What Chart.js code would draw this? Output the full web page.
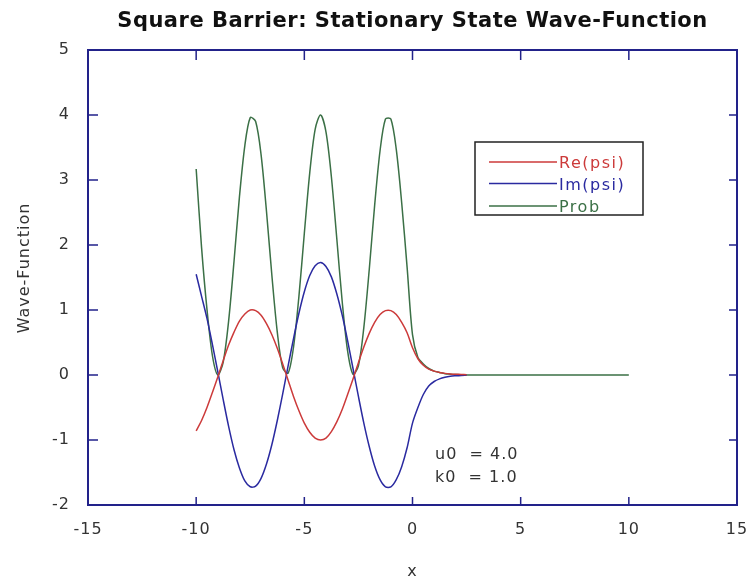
<!DOCTYPE html>
<html>
<head>
<meta charset="utf-8">
<script src="https://cdn.jsdelivr.net/npm/chart.js@4.4.1/dist/chart.umd.min.js"></script>
<style>
  html, body { margin: 0; padding: 0; background: #fff; }
  #chart { display: block; }
</style>
</head>
<body>
<canvas id="chart" width="748" height="583"></canvas>
<script>
// values, x step 0.25
const xs = [-10, -9.75, -9.5, -9.25, -9, -8.75, -8.5, -8.25, -8, -7.75,
  -7.5, -7.25, -7, -6.75, -6.5, -6.25, -6, -5.75, -5.5, -5.25,
  -5, -4.75, -4.5, -4.25, -4, -3.75, -3.5, -3.25, -3, -2.75,
  -2.5, -2.25, -2, -1.75, -1.5, -1.25, -1, -0.75, -0.5, -0.25,
  0, 0.25, 0.5, 0.75, 1, 1.25, 1.5, 1.75, 2, 2.25, 2.5];

const rePsi = [-0.86, -0.70, -0.50, -0.27, -0.03, 0.22, 0.46, 0.66, 0.83, 0.94,
  1.00, 0.99, 0.92, 0.79, 0.62, 0.41, 0.17, -0.08, -0.33, -0.55,
  -0.74, -0.88, -0.97, -1.00, -0.97, -0.87, -0.72, -0.53, -0.30, -0.06,
  0.19, 0.43, 0.64, 0.81, 0.93, 0.99, 0.99, 0.93, 0.81, 0.65,
  0.42, 0.25, 0.15, 0.09, 0.06, 0.04, 0.025, 0.017, 0.012, 0.008, 0.005];

const imPsi = [1.55, 1.21, 0.87, 0.47, 0.05, -0.38, -0.79, -1.15, -1.43, -1.63,
  -1.72, -1.71, -1.59, -1.37, -1.07, -0.70, -0.29, 0.14, 0.56, 0.95,
  1.28, 1.53, 1.68, 1.73, 1.67, 1.51, 1.25, 0.92, 0.53, 0.10,
  -0.33, -0.74, -1.10, -1.40, -1.61, -1.72, -1.72, -1.61, -1.41, -1.12,
  -0.74, -0.50, -0.30, -0.17, -0.10, -0.06, -0.035, -0.02, -0.012, -0.006, -0.003];

const prob = [3.17, 1.96, 1.01, 0.30, 0.00, 0.20, 0.83, 1.75, 2.74, 3.53,
  3.96, 3.90, 3.39, 2.52, 1.53, 0.66, 0.11, 0.03, 0.43, 1.21,
  2.18, 3.11, 3.78, 4.00, 3.74, 3.05, 2.10, 1.13, 0.37, 0.01,
  0.14, 0.73, 1.62, 2.61, 3.45, 3.94, 3.94, 3.47, 2.65, 1.66,
  0.62, 0.27, 0.17, 0.10, 0.06, 0.04, 0.02, 0.012, 0.006, 0.003, 0.001];

// Prob keeps going flat to x = 10
const probTailX = [3, 4, 5, 6, 7, 8, 9, 10];
const probTail = [0, 0, 0, 0, 0, 0, 0, 0];

const xTicks = [-15, -10, -5, 0, 5, 10, 15];
const yTicks = [-2, -1, 0, 1, 2, 3, 4, 5];
const notes = ['u0  = 4.0', 'k0  = 1.0'];

const RED = '#cc3a3a';
const BLUE = '#2a2aa0';
const GREEN = '#3b7046';
const AXIS = '#22228a';
const TEXT = '#333333';
const FONT = 'DejaVu Sans';

const points = (xv, yv) => xv.map((x, i) => ({ x: x, y: yv[i] }));

// frame with inward ticks, legend box, notes, titles
const decor = {
    id: 'decor',
    beforeDraw(chart) {
        chart.ctx.letterSpacing = '1px';
    },
    afterDraw(chart) {
        const { ctx, chartArea: a, scales: { x, y } } = chart;
        ctx.save();

        ctx.strokeStyle = AXIS;
        ctx.lineWidth = 2;
        ctx.strokeRect(a.left, a.top, a.right - a.left, a.bottom - a.top);

        ctx.lineWidth = 1.5;
        ctx.beginPath();
        xTicks.slice(1, -1).forEach(v => {
            const px = x.getPixelForValue(v);
            ctx.moveTo(px, a.bottom);
            ctx.lineTo(px, a.bottom - 8);
            ctx.moveTo(px, a.top);
            ctx.lineTo(px, a.top + 10);
        });
        yTicks.slice(1, -1).forEach(v => {
            const py = y.getPixelForValue(v);
            ctx.moveTo(a.left, py);
            ctx.lineTo(a.left + 10, py);
            ctx.moveTo(a.right, py);
            ctx.lineTo(a.right - 8, py);
        });
        ctx.stroke();

        // legend
        ctx.strokeStyle = '#222';
        ctx.lineWidth = 1.5;
        ctx.strokeRect(475, 142, 168, 73);
        const rows = [162, 183.5, 206];
        ctx.font = '16px "' + FONT + '"';
        ctx.letterSpacing = '1.5px';
        ctx.textAlign = 'left';
        ctx.textBaseline = 'alphabetic';
        chart.data.datasets.forEach((ds, i) => {
            ctx.strokeStyle = ds.borderColor;
            ctx.lineWidth = 1.5;
            ctx.beginPath();
            ctx.moveTo(489, rows[i]);
            ctx.lineTo(557, rows[i]);
            ctx.stroke();
            ctx.fillStyle = ds.borderColor;
            ctx.fillText(ds.label, 559, rows[i] + 6);
        });

        // parameters
        ctx.fillStyle = TEXT;
        ctx.letterSpacing = '1px';
        ctx.fillText(notes[0], 435, 459);
        ctx.fillText(notes[1], 435, 482);

        // title
        ctx.fillStyle = '#111';
        ctx.font = 'bold 21px "' + FONT + '"';
        ctx.letterSpacing = '0.5px';
        ctx.textAlign = 'center';
        ctx.fillText('Square Barrier: Stationary State Wave-Function', (a.left + a.right) / 2, 27);

        // y axis title
        ctx.fillStyle = TEXT;
        ctx.font = '16px "' + FONT + '"';
        ctx.letterSpacing = '1px';
        ctx.translate(28.5, 268);
        ctx.rotate(-Math.PI / 2);
        ctx.fillText('Wave-Function', 0, 0);

        ctx.restore();
    }
};

const chart = document.querySelector('#chart').getContext('2d');

new Chart(chart, {
    type: 'line',
    data: {
        datasets: [{
                label: 'Re(psi)',
                data: points(xs, rePsi),
                borderColor: RED,
                borderWidth: 1.5,
            },
            {
                label: 'Im(psi)',
                data: points(xs, imPsi),
                borderColor: BLUE,
                borderWidth: 1.5,
            },
            {
                label: 'Prob',
                data: points(xs.concat(probTailX), prob.concat(probTail)),
                borderColor: GREEN,
                borderWidth: 1.5,
            }
        ],
    },
    options: {
        responsive: false,
        animation: false,
        devicePixelRatio: 1,
        elements: { point: { radius: 0 }, line: { tension: 0.3 } },
        layout: { padding: { top: 50, right: 11, left: 0, bottom: 0 } },
        plugins: {
            legend: { display: false },
            title: { display: false },
            tooltip: { enabled: false }
        },
        scales: {
            x: {
                type: 'linear',
                min: -15,
                max: 15,
                afterBuildTicks: s => { s.ticks = xTicks.map(v => ({ value: v })); },
                ticks: { padding: 15, color: TEXT, font: { family: FONT, size: 16 } },
                grid: { display: false, drawTicks: false },
                border: { display: false },
                title: {
                    display: true,
                    text: 'x',
                    color: TEXT,
                    font: { family: FONT, size: 16 },
                    padding: { top: 0, bottom: 2 }
                },
                afterFit: s => {
                    s.height = 78;
                    s.paddingLeft = 0;
                    s.paddingRight = 0;
                }
            },
            y: {
                type: 'linear',
                min: -2,
                max: 5,
                afterBuildTicks: s => { s.ticks = yTicks.map(v => ({ value: v })); },
                ticks: { padding: 18, color: TEXT, font: { family: FONT, size: 16 } },
                grid: { display: false, drawTicks: false },
                border: { display: false },
                afterFit: s => {
                    s.width = 88;
                    s.paddingTop = 0;
                    s.paddingBottom = 0;
                }
            }
        }
    },
    plugins: [decor]
});
</script>
</body>
</html>
